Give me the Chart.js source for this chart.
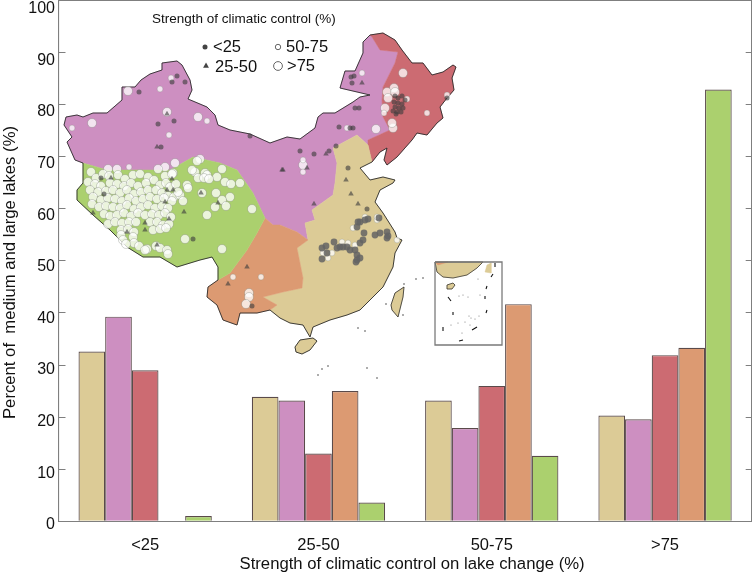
<!DOCTYPE html>
<html><head><meta charset="utf-8">
<script src="https://cdn.jsdelivr.net/npm/chart.js@4"></script>
<style>html,body{margin:0;padding:0;background:#fff}canvas{display:block}</style>
</head><body><canvas id="c" width="752" height="573"></canvas>
<script>
const categories = ['<25','25-50','50-75','>75'];
const regionNames = ['East','North','Northeast','Southwest','Tibet'];
const eastValues = [32.6,23.9,23.2,20.3];
const northValues = [39.3,23.2,17.9,19.6];
const northeastValues = [29,13,26,31.9];
const southwestValues = [null,25,41.7,33.3];
const tibetValues = [1,3.6,12.6,82.9];
const yTicks = [0,10,20,30,40,50,60,70,80,90,100];
const legendTitle = 'Strength of climatic control (%)';
const xTitle = '   Strength of climatic control on lake change (%)';
const yTitle = 'Percent of  medium and large lakes (%)     ';

/* map geometry (picture coordinates, converted to the chart's scales below) */
const northPoly = [[64,125],[66,117],[77,115],[83,117],[93,113],[107,113],[122,100],[122,87],[135,87],[141,80],[150,74],[162,70],[162,63],[177,61],[182,65],[190,80],[192,90],[188,99],[207,107],[215,115],[218,125],[230,130],[250,134],[270,143],[287,137],[300,139],[315,128],[318,117],[323,113],[335,113],[353,102],[360,97],[370,95],[340,88],[345,71],[355,71],[363,53],[363,42],[370,35],[372,37],[380,50],[398,52],[395,63],[383,87],[382,100],[383,117],[390,130],[368,140],[368,145],[357,135],[333,148],[337,163],[335,183],[333,195],[312,210],[315,220],[305,223],[308,240],[297,232],[280,225],[273,225],[265,218],[253,193],[237,170],[220,163],[193,157],[170,170],[130,170],[107,170],[83,163],[75,160],[67,142],[72,137],[64,125]];
const northeastPoly = [[372,37],[370,35],[383,33],[395,40],[402,50],[412,63],[423,63],[432,75],[443,72],[453,65],[456,67],[452,78],[454,90],[447,98],[440,107],[443,118],[437,123],[427,135],[417,133],[412,140],[397,157],[387,165],[384,160],[387,148],[380,152],[372,162],[368,145],[368,140],[390,130],[383,117],[382,100],[383,87],[395,63],[398,52],[380,50],[372,37]];
const eastPoly = [[357,135],[368,145],[372,162],[360,168],[370,180],[383,177],[395,180],[393,183],[380,190],[375,202],[383,213],[395,232],[397,238],[402,240],[395,253],[393,267],[383,287],[373,297],[360,310],[347,315],[330,320],[313,327],[310,337],[303,325],[290,323],[280,318],[270,310],[277,305],[263,297],[283,292],[302,288],[303,278],[297,248],[308,240],[305,223],[315,220],[312,210],[333,195],[335,183],[337,163],[333,148],[357,135]];
const southwestPoly = [[265,218],[273,225],[280,225],[297,232],[308,240],[297,248],[303,278],[302,288],[283,292],[263,297],[277,305],[270,310],[257,313],[240,313],[237,325],[223,320],[217,305],[207,297],[208,287],[218,280],[230,273],[247,250],[257,233],[265,218]];
const tibetPoly = [[83,163],[107,170],[130,170],[170,170],[193,157],[220,163],[237,170],[253,193],[265,218],[257,233],[247,250],[230,273],[218,280],[218,267],[212,257],[200,260],[177,267],[160,257],[143,257],[127,247],[110,230],[93,215],[77,200],[77,190],[83,183],[83,163]];
const hainanPoly = [[295,347],[300,340],[313,338],[317,341],[310,350],[302,354],[296,352],[295,347]];
const taiwanPoly = [[391,305],[395,293],[404,287],[403,297],[398,317],[392,310],[391,305]];
const coastOutline = [[64,125],[66,117],[77,115],[83,117],[93,113],[107,113],[122,100],[122,87],[135,87],[141,80],[150,74],[162,70],[162,63],[177,61],[182,65],[190,80],[192,90],[188,99],[207,107],[215,115],[218,125],[230,130],[250,134],[270,143],[287,137],[300,139],[315,128],[318,117],[323,113],[335,113],[353,102],[360,97],[370,95],[340,88],[345,71],[355,71],[363,53],[363,42],[370,35],[383,33],[395,40],[402,50],[412,63],[423,63],[432,75],[443,72],[453,65],[456,67],[452,78],[454,90],[447,98],[440,107],[443,118],[437,123],[427,135],[417,133],[412,140],[397,157],[387,165],[384,160],[387,148],[380,152],[372,162],[360,168],[370,180],[383,177],[395,180],[393,183],[380,190],[375,202],[383,213],[395,232],[397,238],[402,240],[395,253],[393,267],[383,287],[373,297],[360,310],[347,315],[330,320],[313,327],[310,337],[303,325],[290,323],[280,318],[270,310],[257,313],[240,313],[237,325],[223,320],[217,305],[207,297],[208,287],[218,280],[218,267],[212,257],[200,260],[177,267],[160,257],[143,257],[127,247],[110,230],[93,215],[77,200],[77,190],[83,183],[83,163],[75,160],[67,142],[72,137],[64,125]];
const insetBox = [[435,262],[502,262],[502,345],[435,345],[435,262]];
const insetLand = [[435,262],[483,262],[477,268],[467,275],[453,278],[443,277],[437,272],[435,262]];
const insetOrange = [[435,262],[448,262],[438,265],[435,262]];
const insetHainan = [[447,285],[453,283],[455,285],[452,289],[447,289],[447,285]];
const insetTaiwan = [[485,272],[487,265],[491,263],[491,273],[485,272]];
const insetDashes = [[448,297],[451,301],null,[453,312],[453,315],null,[443,327],[443,331],null,[459,341],[463,340],null,[472,330],[477,327],null,[486,313],[487,310],null,[485,296],[485,299],null,[487,286],[486,289],null,[491,277],[493,274],null,[495,263],[495,267]];
const insetIslets = [[459,296],[463,295],[468,297],[480,295],[469,316],[471,318],[465,322],[458,323],[451,325],[475,319],[479,316],[470,325],[462,333],[478,279]];
const seaIslets = [[358,328],[365,331],[322,369],[328,366],[367,368],[377,378],[318,375],[416,279],[423,278],[404,284],[386,304],[403,315]];

const paleLarge = [[92,123],[128,91],[167,112],[198,117],[403,73],[376,129],[393,128],[392,123],[385,108],[303,165],
[175,163],[200,159],[197,161],[165,167],[158,169],[173,173],[195,172],[192,170],[205,173],[207,175],[217,177],[222,169],[225,182],[231,184],[240,183],[198,178],[204,178],[209,179],[187,185],[188,188],[202,193],[216,193],[230,197],[222,200],[226,206],[215,207],[252,209],[207,215],[222,249],[185,239],
[108,169],[117,169],
[91,172],[96,178],[103,174],[109,176],[118,175],[125,179],[133,175],[140,174],[148,177],[165,176],[172,174],
[88,182],[95,184],[101,186],[110,183],[117,184],[124,186],[131,183],[138,186],[146,183],[154,180],[160,185],[166,183],[170,187],[176,184],
[90,190],[98,192],[106,191],[113,190],[120,193],[127,190],[134,194],[141,192],[148,190],[156,190],[162,193],[168,196],[174,197],[180,195],[183,201],[178,192],
[93,197],[101,200],[108,198],[115,199],[122,201],[129,198],[136,201],[143,199],[150,197],[157,199],[164,198],[172,201],
[92,204],[99,207],[106,206],[113,207],[120,208],[127,205],[134,209],[141,207],[148,205],[155,208],[162,206],[168,208],
[104,214],[110,216],[117,215],[124,213],[131,216],[138,213],[145,215],[152,214],[159,215],[165,213],[171,217],
[108,224],[115,222],[122,223],[129,222],[136,222],[150,222],[157,222],[163,225],[169,224],
[121,230],[128,229],[134,232],[121,235],[153,230],[160,229],[166,228],[123,240],[133,237],[134,243],[126,244],
[139,246],[147,249],[156,246],[160,248],[167,250],[168,254],[145,250],
[249,293],[249,297],[246,304],[394,88],[387,92],[388,98],[395,92]];
const paleSmall = [[72,128],[160,89],[171,78],[207,121],[169,135],[362,73],[347,128],[384,113],[427,113],[447,95],[303,160],[303,172],[233,277],[261,277],[129,167],[407,99],[342,242],[348,243],[328,258],[332,253],[353,228],[377,220],[365,217],[355,245],[323,253],[397,240],[377,217]];
const darkCircles = [[177,76],[172,82],[185,82],[139,92],[158,124],[174,121],[250,136],[300,151],[161,147],[351,77],[354,76],[352,83],[355,108],[359,108],[339,127],[350,128],[353,128],[336,146],[314,154],[329,151],[348,168],[367,209],[447,98],[193,239],[101,178],[104,194],[252,306],
[395,96],[398,98],[402,96],[405,100],[394,102],[398,103],[402,104],[395,107],[399,108],[403,108],[393,111],[397,112],[401,112],[396,114]];
const grayCircles = [[322,248],[326,246],[334,242],[327,253],[322,259],[337,248],[340,247],[343,247],[347,247],[350,250],[355,250],[360,243],[363,240],[364,233],[357,255],[357,260],[356,262],[360,258],[358,222],[357,227],[360,222],[365,220],[368,219],[379,218],[375,235],[380,233],[387,232],[388,236],[387,238]];
const darkTriangles = [[167,114],[157,147],[282,170],[362,83],[326,154],[283,170],[307,168],[346,180],[351,194],[358,204],[314,204],[111,178],[172,179],[167,190],[173,190],[165,202],[169,219],[145,223],[145,230],[127,232],[93,213],[157,245],[184,212],[201,193],[218,203],[247,267],[228,284]];
const legendCircle = [[205,47]];
const legendTriangle = [[206,66]];
const legendSmall = [[278,47]];
const legendLarge = [[278,66]];
const legendTexts = [['<25',213,47],['25-50',215,67],['50-75',286,47],['>75',287,66]];

const FONT = '"Liberation Sans", Arial, sans-serif';
const frame = '#7f7f7f';
const PLOT_LEFT = 58.5, GROUP_W = 173.3;
/* picture x -> category-scale units; the map shares the category x scale with the bars */
const catX = px => (px - PLOT_LEFT) / GROUP_W - 0.5;
const pts = a => a.map(p => p ? {x:catX(p[0]),y:p[1]} : {x:NaN,y:NaN});
let ord = 1000;
const mapSet = o => Object.assign({type:'scatter',parsing:false,normalized:false,xAxisID:'x',yAxisID:'mapY',order:ord--,pointRadius:0,pointHoverRadius:0,borderWidth:0}, o, {data:pts(o.data)});
const area = (data,color) => mapSet({data,showLine:true,fill:'shape',backgroundColor:color,borderColor:color,borderWidth:0.5});
const line = (data,color,w) => mapSet({data,showLine:true,fill:false,borderColor:color,borderWidth:w,spanGaps:false});
const dots = (data,style,r,fill,edge,w) => mapSet({data,pointStyle:style,pointRadius:r,pointBackgroundColor:fill,pointBorderColor:edge,pointBorderWidth:w,showLine:false});
const bar = (label,data,color) => ({type:'bar',label,data,xAxisID:'x',yAxisID:'y',backgroundColor:color,borderColor:'#5a4a4a',borderWidth:1.2,borderSkipped:'bottom',barPercentage:1,categoryPercentage:0.7692,order:2000});

const PALE='rgba(255,255,255,.76)', PALE_E='rgba(95,100,90,.4)', DARK='rgba(62,62,62,.62)';
const datasets = [
  bar(regionNames[0],eastValues,'#dccb96'),
  bar(regionNames[1],northValues,'#cd8fc1'),
  bar(regionNames[2],northeastValues,'#cc6b72'),
  bar(regionNames[3],southwestValues,'#dc9a72'),
  bar(regionNames[4],tibetValues,'#abd06e'),
  area(northPoly,'#cd8fc1'),area(northeastPoly,'#cc6b72'),area(eastPoly,'#dccb96'),area(southwestPoly,'#dc9a72'),area(tibetPoly,'#abd06e'),
  area(hainanPoly,'#dccb96'),area(taiwanPoly,'#dccb96'),
  line(coastOutline,'#2b2b2b',0.9),line(hainanPoly,'#2b2b2b',0.9),line(taiwanPoly,'#2b2b2b',0.8),
  dots(seaIslets,'circle',0.8,'#444','#444',0),
  area(insetBox,'#ffffff'),area(insetLand,'#dccb96'),area(insetOrange,'#dc9a72'),area(insetHainan,'#dccb96'),area(insetTaiwan,'#dccb96'),
  line(insetLand,'#222',0.7),line(insetHainan,'#222',0.7),line(insetDashes,'#111',1.1),
  dots(insetIslets,'circle',0.6,'#777','#777',0),
  line(insetBox,'#7a7a7a',1.3),
  dots(paleLarge,'circle',4.5,PALE,PALE_E,0.7),
  dots(paleSmall,'circle',2.9,PALE,PALE_E,0.6),
  dots(darkCircles,'circle',2.5,DARK,'rgba(0,0,0,0)',0),
  dots(grayCircles,'circle',3.4,'rgba(100,100,100,.85)','rgba(0,0,0,0)',0),
  dots(darkTriangles,'triangle',3.2,DARK,'rgba(0,0,0,0)',0),
  dots(legendCircle,'circle',2.5,'#444','#444',0),
  dots(legendTriangle,'triangle',3.4,'#444','#444',0),
  dots(legendSmall,'circle',2.7,'#fff','#555',0.9),
  dots(legendLarge,'circle',4.4,'#fff','#555',0.9),
];

const mapText = {id:'mapText',afterDraw(ch){
  const c=ch.ctx,x=ch.scales.x,y=ch.scales.mapY;
  const px=v=>x.getPixelForValue(catX(v));
  c.save();c.fillStyle='#111';c.textBaseline='middle';c.textAlign='left';
  c.font='13.5px '+FONT;
  c.fillText(legendTitle,px(152),y.getPixelForValue(19));
  c.font='16.5px '+FONT;
  legendTexts.forEach(t=>c.fillText(t[0],px(t[1]),y.getPixelForValue(t[2])));
  c.restore();
}};
const noPad = s => {s.paddingTop=0;s.paddingBottom=0;s.paddingLeft=0;s.paddingRight=0;};

new Chart(document.getElementById('c'),{
  data:{labels:categories,datasets},
  plugins:[mapText],
  options:{
    responsive:false,animation:false,events:[],
    layout:{padding:0,autoPadding:false},
    plugins:{legend:{display:false},tooltip:{enabled:false},title:{display:false}},
    scales:{
      x:{type:'category',position:'bottom',offset:true,
        grid:{display:false,drawTicks:false},border:{color:frame,width:1.1},
        ticks:{color:'#111',font:{family:FONT,size:16.5},padding:14,maxRotation:0,autoSkip:false},
        title:{display:true,text:xTitle,color:'#111',font:{family:FONT,size:16.7},padding:{top:0,bottom:-1}},
        afterFit(s){s.height=573-521.3;noPad(s);}},
      xTop:{type:'category',position:'top',labels:categories,offset:true,
        grid:{display:false,drawTicks:false},border:{display:true,color:frame,width:1.1},
        ticks:{display:false},afterFit(s){s.height=0.5;noPad(s);}},
      y:{type:'linear',position:'left',weight:0,min:0,max:100,
        afterBuildTicks(s){s.ticks=yTicks.map(v=>({value:v}));},
        grid:{drawOnChartArea:false,tickLength:-7,color:frame,tickColor:frame},border:{color:frame,width:1.1},
        ticks:{display:false},
        afterFit(s){s.width=0.01;noPad(s);}},
      /* the printed tick labels drift slightly from the tick marks in the picture, so they have their own axis */
      yLabels:{type:'linear',position:'left',weight:1,min:0,max:100.93,
        afterBuildTicks(s){s.ticks=yTicks.map(v=>({value:v}));},
        grid:{display:false,drawTicks:false},border:{display:false},
        ticks:{color:'#111',font:{family:FONT,size:16},padding:3.5,labelOffset:3.5},
        title:{display:true,text:yTitle,color:'#111',font:{family:FONT,size:16.7},padding:{top:0,bottom:0}},
        afterFit(s){s.width=PLOT_LEFT;noPad(s);}},
      yR:{type:'linear',position:'right',min:0,max:100,
        afterBuildTicks(s){s.ticks=yTicks.map(v=>({value:v}));},
        grid:{drawOnChartArea:false,tickLength:-6,color:frame,tickColor:frame},border:{color:frame,width:1.1},
        ticks:{display:false},afterFit(s){s.width=0.3;noPad(s);}},
      mapY:{type:'linear',display:false,position:'left',reverse:true,min:0.5,max:521.3,
        ticks:{display:false},afterFit(s){noPad(s);}}
    }
  }
});
</script></body></html>
